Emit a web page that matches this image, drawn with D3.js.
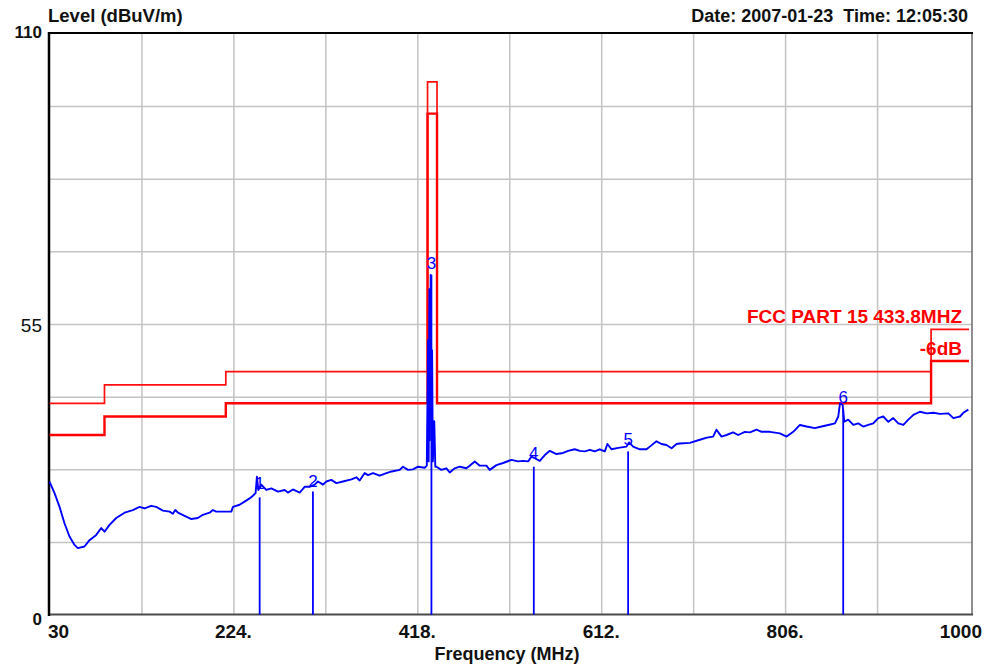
<!DOCTYPE html>
<html>
<head>
<meta charset="utf-8">
<script src="https://cdn.jsdelivr.net/npm/d3@7"></script>
<style>
  body { margin: 0; background: #fff; }
  svg { display: block; font-family: Arial, "Liberation Sans", sans-serif; }
</style>
</head>
<body>
<script>
// axis labels
const freqTicks = [30, 224, 418, 612, 806, 1000];
const freqTickLabels = ["30", "224.", "418.", "612.", "806.", "1000"];
const levelTicks = [110, 55, 0];
const levelTickLabels = ["110", "55", "0"];

// FCC part 15 limit and the -6 dB margin line, step corners (MHz / dBuV/m)
const limitFreq = [30, 88, 88, 216, 216, 428.8, 428.8, 438.8, 438.8, 960, 960, 1000];
const limitLevel = [40, 40, 43.5, 43.5, 46, 46, 100.8, 100.8, 46, 46, 54, 54];
const marginLevel = [34, 34, 37.5, 37.5, 40, 40, 94.8, 94.8, 40, 40, 48, 48];
const lineNames = ["FCC PART 15 433.8MHZ", "-6dB"];

// scan trace
const traceFreq = [30.0, 35.3, 40.6, 45.8, 51.1, 56.4, 59.9, 66.9, 72.2, 79.3, 84.6, 88.1, 93.3, 100.4, 109.2, 117.9,
  125.0, 130.3, 137.3, 142.6, 149.6, 156.7, 160.2, 162.7, 165.5, 172.5, 179.6, 186.5, 191.8, 198.9, 202.4, 205.9,
  221.8, 223.5, 230.5, 235.8, 241.1, 244.6, 247.4, 248.8, 250.3, 253.4, 258.7, 264.0, 271.0, 278.0, 281.5, 286.8,
  293.9, 299.2, 304.4, 309.7, 313.2, 318.5, 322.1, 327.3, 332.6, 339.6, 348.5, 353.7, 357.2, 362.5, 366.0, 371.3,
  378.3, 385.4, 391.0, 399.4, 402.9, 408.2, 413.5, 418.7, 425.8, 428.0, 429.4, 430.0, 430.7, 431.3, 432.1, 432.9,
  433.6, 434.4, 435.9, 437.0, 438.2, 443.4, 448.7, 452.2, 457.5, 462.8, 469.8, 473.3, 478.6, 483.9, 490.9, 494.4,
  501.5, 508.5, 517.3, 524.3, 529.6, 534.9, 538.4, 541.9, 547.2, 552.5, 557.8, 564.8, 571.8, 577.1, 584.1, 589.4,
  594.7, 600.0, 605.2, 610.5, 615.8, 618.6, 622.8, 631.6, 638.7, 641.4, 645.7, 652.7, 659.8, 663.3, 670.3, 675.6,
  680.9, 686.2, 691.5, 695.0, 705.5, 716.1, 723.5, 730.1, 733.6, 738.9, 744.2, 751.2, 756.5, 763.6, 768.9, 775.9,
  781.2, 790.0, 800.5, 807.6, 814.6, 821.6, 828.7, 837.4, 844.5, 851.5, 858.6, 862.1, 863.9, 866.7, 868.4, 872.6,
  877.9, 883.2, 888.4, 893.7, 899.0, 904.3, 909.6, 914.9, 920.1, 925.4, 930.7, 936.0, 941.3, 948.3, 955.4, 962.3,
  969.4, 978.2, 983.5, 990.5, 994.0, 999.3];
const traceLevel = [25.2, 23.0, 20.4, 17.3, 14.8, 13.2, 12.6, 12.9, 14.1, 15.1, 16.4, 15.7, 17.0, 18.3, 19.3, 19.8,
  20.4, 20.1, 20.6, 20.4, 19.7, 19.5, 19.1, 19.8, 19.3, 18.7, 18.1, 18.3, 18.9, 19.3, 19.8, 19.5,
  19.5, 20.4, 20.8, 21.4, 22.0, 22.5, 23.0, 26.1, 23.6, 24.6, 23.6, 23.9, 23.3, 23.6, 23.1, 23.7,
  23.1, 24.2, 24.2, 24.6, 25.2, 24.6, 25.2, 25.5, 24.9, 25.2, 25.6, 26.0, 25.4, 26.8, 26.4, 26.8,
  26.3, 26.8, 27.1, 27.4, 28.0, 27.4, 27.5, 28.0, 27.8, 28.2, 52.0, 29.0, 61.6, 33.0, 64.3, 38.0,
  50.0, 29.0, 36.6, 28.0, 28.0, 27.4, 27.7, 26.9, 27.7, 28.0, 27.7, 28.2, 29.0, 28.2, 28.2, 27.4,
  28.3, 28.7, 29.3, 29.0, 29.1, 29.0, 29.9, 29.6, 29.1, 30.2, 31.0, 30.4, 30.6, 31.0, 31.3, 31.0,
  30.9, 31.2, 30.9, 31.3, 30.9, 32.3, 31.3, 31.6, 31.8, 32.6, 31.8, 31.3, 31.3, 31.8, 32.8, 32.3,
  32.1, 31.5, 32.3, 32.4, 32.5, 33.1, 33.5, 33.7, 35.0, 33.7, 34.0, 34.5, 34.0, 34.6, 34.5, 35.0,
  34.6, 34.6, 34.3, 33.7, 34.6, 35.9, 35.6, 35.3, 35.6, 35.9, 36.2, 37.5, 40.0, 39.7, 36.5, 36.9,
  35.9, 36.2, 35.6, 35.9, 36.2, 37.2, 37.5, 36.5, 37.2, 36.2, 35.9, 36.9, 37.8, 38.4, 38.1, 38.2,
  38.0, 38.1, 37.2, 37.5, 38.2, 38.8];

// markers: final readings drawn as vertical bars
const markerIds = ["1", "2", "3", "4", "5", "6"];
const markerFreq = [251.7, 307.9, 432.9, 540.9, 640.4, 867.3];
const markerLevel = [22.2, 23.3, 64.3, 28.0, 30.9, 38.7];
const markerReading = [23.8, 24.2, 65.5, 29.4, 32.1, 40.1];

const width = 987, height = 668;
const plotLeft = 49.5, plotRight = 969, plotTop = 33.3, plotBottom = 614.7;

const svg = d3.select("body")
  .append("svg")
  .attr("width", width)
  .attr("height", height);

const x = d3.scaleLinear().domain([30, 1000]).range([plotLeft, plotRight]);
const y = d3.scaleLinear().domain([0, 110]).range([plotBottom, plotTop]);

// grid: 10 x 8 divisions
const xGrid = d3.range(1, 10).map(i => 30 + i * 97);
const yGrid = d3.range(1, 8).map(i => i * 13.75);

svg.append("g")
  .attr("transform", `translate(0,${plotBottom})`)
  .call(d3.axisBottom(x).tickValues(xGrid).tickSize(-(plotBottom - plotTop)).tickFormat(""))
  .call(g => g.select(".domain").remove())
  .call(g => g.selectAll("line").attr("stroke", "#c4c4c4").attr("stroke-width", 1.5));

svg.append("g")
  .attr("transform", `translate(${plotLeft},0)`)
  .call(d3.axisLeft(y).tickValues(yGrid).tickSize(-(972 - plotLeft)).tickFormat(""))
  .call(g => g.select(".domain").remove())
  .call(g => g.selectAll("line").attr("stroke", "#c4c4c4").attr("stroke-width", 1.5));

// frame
svg.append("line").attr("x1", 972).attr("x2", 972).attr("y1", 33).attr("y2", 615)
  .attr("stroke", "#6a6a6a").attr("stroke-width", 1.5);
svg.append("line").attr("x1", 49).attr("x2", 973).attr("y1", 614.5).attr("y2", 614.5)
  .attr("stroke", "#4a4a4a").attr("stroke-width", 2);
svg.append("line").attr("x1", 48).attr("x2", 973).attr("y1", 33).attr("y2", 33)
  .attr("stroke", "#000").attr("stroke-width", 2);
svg.append("line").attr("x1", 49).attr("x2", 49).attr("y1", 32).attr("y2", 616)
  .attr("stroke", "#000").attr("stroke-width", 2.5);

// limit lines
const stepLine = d3.line().x(d => x(d[0])).y(d => y(d[1]));
const limitPts = limitFreq.map((f, i) => [f, limitLevel[i]]);
const marginPts = limitFreq.map((f, i) => [f, marginLevel[i]]);

svg.append("path").attr("d", stepLine(limitPts))
  .attr("fill", "none").attr("stroke", "#ff1010").attr("stroke-width", 1.7);
svg.append("path").attr("d", stepLine(marginPts))
  .attr("fill", "none").attr("stroke", "#ff0000").attr("stroke-width", 2.4);

[limitPts, marginPts].forEach((pts, i) => {
  const last = pts[pts.length - 1];
  svg.append("text")
    .attr("x", x(last[0]) - 7)
    .attr("y", y(last[1]) - 6)
    .attr("text-anchor", "end")
    .attr("font-size", 19)
    .attr("font-weight", "bold")
    .attr("fill", "#ff0000")
    .text(lineNames[i]);
});

// marker bars
svg.append("g")
  .selectAll("line")
  .data(markerFreq)
  .join("line")
  .attr("x1", d => x(d)).attr("x2", d => x(d))
  .attr("y1", y(0))
  .attr("y2", (d, i) => y(markerLevel[i]))
  .attr("stroke", "#0000ff")
  .attr("stroke-width", 1.8);

// trace
const trace = traceFreq.map((f, i) => [f, traceLevel[i]]);
svg.append("path")
  .attr("d", d3.line().x(d => x(d[0])).y(d => y(d[1]))(trace))
  .attr("fill", "none")
  .attr("stroke", "#0000ff")
  .attr("stroke-width", 1.9)
  .attr("stroke-linejoin", "round");

// marker numbers
svg.append("g")
  .selectAll("text")
  .data(markerIds)
  .join("text")
  .attr("x", (d, i) => x(markerFreq[i]))
  .attr("y", (d, i) => y(markerReading[i]))
  .attr("text-anchor", "middle")
  .attr("font-size", 17)
  .attr("fill", "#0000ff")
  .text(d => d);

// x tick labels
svg.append("g")
  .selectAll("text")
  .data(freqTicks)
  .join("text")
  .attr("x", (d, i) => i === 0 ? 48 : i === freqTicks.length - 1 ? 982 : x(d))
  .attr("y", 638)
  .attr("text-anchor", (d, i) => i === 0 ? "start" : i === freqTicks.length - 1 ? "end" : "middle")
  .attr("font-size", 19)
  .attr("font-weight", "bold")
  .attr("fill", "#111")
  .text((d, i) => freqTickLabels[i]);

// y tick labels
svg.append("g")
  .selectAll("text")
  .data(levelTicks)
  .join("text")
  .attr("x", 42)
  .attr("y", d => y(d) + (d === 0 ? 10 : d === 55 ? 8 : 5))
  .attr("text-anchor", "end")
  .attr("font-size", d => d === 55 ? 19 : 17)
  .attr("font-weight", d => d === 55 ? "normal" : "bold")
  .attr("fill", "#111")
  .text((d, i) => levelTickLabels[i]);

// titles
svg.append("text").attr("x", 48).attr("y", 22)
  .attr("font-size", 18.5).attr("font-weight", "bold").attr("fill", "#111")
  .text("Level (dBuV/m)");
svg.append("text").attr("x", 968).attr("y", 22).attr("text-anchor", "end")
  .attr("font-size", 18).attr("font-weight", "bold").attr("fill", "#111")
  .text("Date: 2007-01-23  Time: 12:05:30")
  .attr("xml:space", "preserve");
svg.append("text").attr("x", 507).attr("y", 660).attr("text-anchor", "middle")
  .attr("font-size", 18).attr("font-weight", "bold").attr("fill", "#111")
  .text("Frequency (MHz)");
</script>
</body>
</html>
